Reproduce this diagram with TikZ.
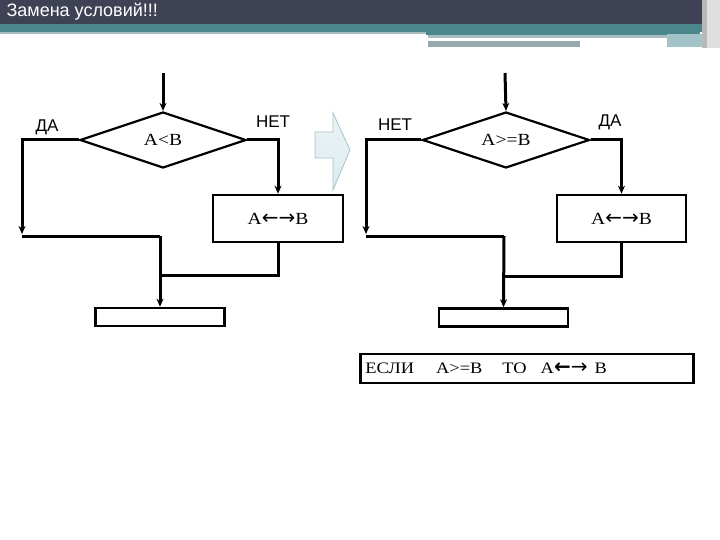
\documentclass[tikz,border=0pt]{standalone}
\usepackage{fontspec}
\setmainfont[FakeStretch=1.15]{Liberation Serif}
\newfontfamily\labfont{Liberation Sans}
\newfontfamily\arrfont{DejaVu Sans}
\usetikzlibrary{shapes.geometric,arrows.meta}
\definecolor{hdark}{HTML}{3F4254}
\definecolor{hteal}{HTML}{4B868C}
\definecolor{hgray}{HTML}{A9BCC0}
\definecolor{hpale}{HTML}{A2C3C8}
\definecolor{bluefill}{HTML}{DCEBF0}
\definecolor{blueedge}{HTML}{A9C2C9}
\newcommand{\swaparrows}{{\arrfont\fontsize{20}{22}\selectfont ←→}}
\tikzset{
  line/.style={line width=3pt},
  arr/.style={line,-{Stealth[length=8pt,width=7pt]}},
  cond/.style={diamond,draw,line width=2.2pt,aspect=3,minimum width=166,minimum height=56,inner sep=0pt,font=\fontsize{17}{20}\selectfont},
  act/.style={rectangle,draw,line width=2.6pt,minimum width=130,minimum height=47,inner sep=0pt,font=\fontsize{17}{20}\selectfont},
  outbox/.style={rectangle,draw,line width=2.6pt,minimum width=129,minimum height=18,inner sep=0pt},
  lab/.style={font=\labfont\fontsize{17}{20}\selectfont}
}
\begin{document}
\begin{tikzpicture}[x=1pt,y=-1pt]
\useasboundingbox (0,0) rectangle (720,540);
% header
\fill[hdark] (0,0) rectangle (702,24);
\fill[hteal] (0,24) rectangle (702,32);
\fill[hgray] (0,32) rectangle (426,34);
\fill[hteal] (426,32) rectangle (700,35);
\fill[hgray] (428,35) rectangle (667,38);
\fill[hgray!90!black] (428,41) rectangle (580,47);
\fill[hpale] (667,34) rectangle (702,47);
\fill[gray!55] (702,0) rectangle (707,48);
\fill[gray!25] (707,0) rectangle (720,48);
\node[anchor=west,text=white,font=\labfont\fontsize{18}{20}\selectfont] (title) at (3,12) {Замена условий!!!};
% left flowchart
\node[cond] (cmp1) at (163,140) {A<B};
\node[act] (swap1) at (278,218.5) {A\swaparrows B};
\node[outbox] (out1) at (160,317) {};
\coordinate (in1) at (163,73);
\coordinate (yes1) at (22,234);
\coordinate (merge1) at (160,236);
\coordinate (meet1) at (160,275);
\draw[arr] (in1) -- (cmp1.north);
\draw[arr] (cmp1.west) -| (yes1);
\draw[arr] (cmp1.east) -| (swap1.north);
\draw[line] (yes1 |- merge1) -- (merge1);
\draw[arr] (merge1) -- (out1.north);
\draw[line] (swap1.south) |- (meet1);
\node[lab] (da1) at (47,127) {ДА};
\node[lab] (net1) at (273,122) {НЕТ};
% block arrow
\shade[top color=bluefill!60!white,bottom color=bluefill,draw=blueedge,line width=0.8pt]
  (315,132) -- (333,132) -- (333,113) -- (350,150) -- (333,190) -- (333,158) -- (315,158) -- cycle;
% right flowchart
\node[cond,minimum width=167] (cmp2) at (506,140) {A>=B};
\node[act,minimum width=129] (swap2) at (621.5,218.5) {A\swaparrows B};
\node[outbox] (out2) at (503.5,317.5) {};
\coordinate (in2) at (505,73);
\coordinate (no2) at (366,234);
\coordinate (merge2) at (504,236);
\coordinate (meet2) at (504,276);
\draw[arr] (in2) -- (cmp2.north);
\draw[arr] (cmp2.west) -| (no2);
\draw[arr] (cmp2.east) -| (swap2.north);
\draw[line] (no2 |- merge2) -- (merge2);
\draw[arr] (merge2) -- (out2.north);
\draw[line] (swap2.south) |- (meet2);
\node[lab] (net2) at (395,125) {НЕТ};
\node[lab] (da2) at (610,122) {ДА};
% rule
\node[rectangle,draw,line width=2.6pt,anchor=west,minimum height=29,inner xsep=5pt,inner ysep=0pt,text width=323pt,align=left,font=\fontsize{16}{18}\selectfont] (rule) at (359,368.5)
  {ЕСЛИ\hspace{22pt}A>=B\hspace{20pt}ТО\hspace{14pt}A{\arrfont\bfseries\fontsize{20}{18}\selectfont ←}{\arrfont\fontsize{20}{18}\selectfont →}\hspace{7pt}B};
\end{tikzpicture}
\end{document}
